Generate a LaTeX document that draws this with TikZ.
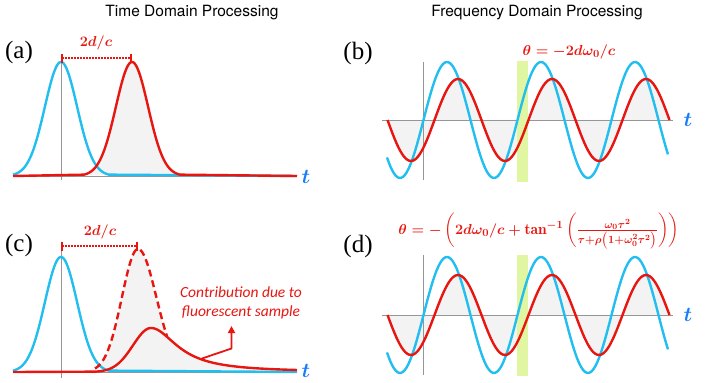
\documentclass[tikz,border=0pt]{standalone}
\usepackage{amsmath}
\usepackage{bm}
\usepackage{fontspec}
\usepackage{tikz}
\usetikzlibrary{arrows.meta}
\newfontfamily\titlefont{TeX Gyre Heros}
\newfontfamily\panelfont{Liberation Serif}
\newfontfamily\notefont{Carlito}
\definecolor{pulseblue}{RGB}{35,190,240}
\definecolor{pulsered}{RGB}{232,22,16}
\definecolor{tblue}{RGB}{25,125,250}
\definecolor{bargreen}{RGB}{224,246,162}
\definecolor{fillgray}{RGB}{243,243,243}
\definecolor{axisgray}{RGB}{150,150,150}
\tikzset{
  curve/.style={line width=2.4pt,line join=round},
  axisline/.style={axisgray,line width=0.8pt},
  panellabel/.style={font=\fontsize{25}{27}\panelfont},
  tlabel/.style={tblue,font=\fontsize{22}{24}\selectfont\boldmath},
  eqlabel/.style={pulsered,font=\fontsize{15}{18}\selectfont\boldmath},
  span/.style={pulsered,line width=1.6pt,dash pattern=on 1.6pt off 1.4pt,
    {Bar[width=9pt,line width=1.6pt]}-{Bar[width=9pt,line width=1.6pt]}}
}
\begin{document}
\begin{tikzpicture}[x=1pt,y=1pt]
\tikzstyle{every node}+=[inner sep=0pt]
\useasboundingbox (0,0) rectangle (705,-383);
% headings
\node (timehead) at (192,-13) {\fontsize{15.5}{18}\titlefont Time Domain Processing};
\node (freqhead) at (537,-13) {\fontsize{15.5}{18}\titlefont Frequency Domain Processing};
% (a) time domain, mirror only
\node [panellabel] (la) at (19,-52) {(a)};
\fill [fillgray] plot[domain=84:180,samples=80] (\x,{-176+114*exp(-(\x-132)*(\x-132)/520)}) -- cycle;
\draw [axisline] (13,-176) -- (297,-176);
\draw [axisline] (61,-60) -- (61,-180);
\draw [curve,pulseblue] plot[domain=13:109,samples=80] (\x,{-176+114*exp(-(\x-61)*(\x-61)/520)}) -- (297,-176);
\draw [curve,pulsered] (13,-176) -- plot[domain=84:180,samples=80] (\x,{-176+114*exp(-(\x-132)*(\x-132)/520)}) -- (297,-176);
\coordinate (pa1) at (61,-58);
\coordinate (pa2) at (132,-58);
\draw [span] (pa1) -- (pa2);
\node [eqlabel] (da) at (96,-43) {$2d/c$};
\node [tlabel] (ta) at (306,-177) {$t$};
% (b) frequency domain, mirror only
\node [panellabel] (lb) at (358,-53) {(b)};
\fill [fillgray] plot[domain=387.5:669.5,samples=160] (\x,{-120+41*cos((\x-458)/94*360)}) -- cycle;
\draw [axisline] (382,-120) -- (673,-120);
\draw [axisline] (423,-62) -- (423,-180);
\fill [bargreen] (517,-61) rectangle (528,-182);
\draw [curve,pulseblue] plot[domain=387:668,samples=160] (\x,{-120+58*cos((\x-447)/94*360)});
\draw [curve,pulsered] plot[domain=387.5:669.5,samples=160] (\x,{-120+41*cos((\x-458)/94*360)});
\node [eqlabel] (eqb) at (569,-52) {$\theta=-2d\omega_0/c$};
\node [tlabel] (tb) at (688,-120) {$t$};
% (c) time domain, fluorescent sample
\node [panellabel] (lc) at (19,-245) {(c)};
\fill [fillgray] (95,-372) -- plot[domain=95:151,samples=50] (\x,{-372+44*exp(-(\x-151)*(\x-151)/648)})
  -- plot[domain=151:297,samples=100] (\x,{-372+44/(1+((\x-151)/32)*((\x-151)/32))}) -- (297,-372) -- cycle;
\fill [fillgray] plot[domain=95:138,samples=40] (\x,{-372+123*exp(-(\x-138)*(\x-138)/520)})
  -- plot[domain=138:180,samples=40] (\x,{-372+123*exp(-(\x-138)*(\x-138)/680)}) -- cycle;
\draw [axisline] (13,-372) -- (297,-372);
\draw [axisline] (61,-243) -- (61,-378);
\draw [curve,pulseblue] plot[domain=13:109,samples=80] (\x,{-372+115*exp(-(\x-61)*(\x-61)/520)}) -- (297,-372);
\draw [curve,pulsered,dash pattern=on 7pt off 4pt] plot[domain=95:138,samples=40] (\x,{-372+123*exp(-(\x-138)*(\x-138)/520)})
  -- plot[domain=138:167,samples=30] (\x,{-372+123*exp(-(\x-138)*(\x-138)/680)});
\draw [curve,pulsered] (13,-372) -- plot[domain=95:151,samples=50] (\x,{-372+44*exp(-(\x-151)*(\x-151)/648)})
  -- plot[domain=151:297,samples=100] (\x,{-372+44/(1+((\x-151)/32)*((\x-151)/32))});
\coordinate (pc1) at (61,-246);
\coordinate (pc2) at (138,-246);
\draw [span] (pc1) -- (pc2);
\node [eqlabel] (dc) at (100,-232) {$2d/c$};
\node [tlabel] (tc) at (306,-371) {$t$};
\node [pulsered,align=center,font=\notefont\itshape\fontsize{15.5}{19.5}\selectfont] (note) at (241,-303)
  {Contribution due to\\fluorescent sample};
\coordinate (tail) at (202,-358.5);
\coordinate (bend) at (231.5,-348.5);
\coordinate (tip) at (231.5,-326);
\draw [pulsered,line width=1.8pt,line join=round,-{Triangle[width=7pt,length=7pt]}] (tail) -- (bend) -- (tip);
% (d) frequency domain, fluorescent sample
\node [panellabel] (ld) at (358,-246) {(d)};
\fill [fillgray] plot[domain=387.5:669.5,samples=160] (\x,{-315+40*cos((\x-458)/94*360)}) -- cycle;
\draw [axisline] (382,-315) -- (673,-315);
\draw [axisline] (423,-255) -- (423,-375);
\fill [bargreen] (517,-255) rectangle (528,-376);
\draw [curve,pulseblue] plot[domain=387:668,samples=160] (\x,{-315+58*cos((\x-447)/94*360)});
\draw [curve,pulsered] plot[domain=387.5:669.5,samples=160] (\x,{-315+40*cos((\x-458)/94*360)});
\node [eqlabel,font=\fontsize{15.5}{18}\selectfont\boldmath] (eqd) at (539,-231)
  {$\theta=-\left(2d\omega_0/c+\tan^{-1}\left(\frac{\omega_0\tau^2}{\tau+\rho\bigl(1+\omega_0^2\tau^2\bigr)}\right)\right)$};
\node [tlabel] (td) at (688,-315) {$t$};
\end{tikzpicture}
\end{document}
